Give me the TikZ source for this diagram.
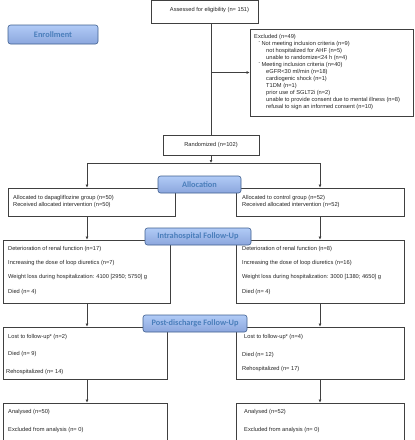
\documentclass[tikz,border=0pt]{standalone}
\usepackage{fontspec}
\setmainfont{Liberation Sans}
\newfontfamily\labfont{Carlito}
\usetikzlibrary{arrows.meta,calc,shadows}
\definecolor{linecol}{HTML}{404040}
\definecolor{labfill}{HTML}{A3C2F5}
\definecolor{labborder}{HTML}{3F5F8F}
\definecolor{labtext}{HTML}{4A7EBB}
\tikzset{
  box/.style={draw=linecol, line width=0.7pt, fill=white, rectangle, inner sep=0pt,
    drop shadow={shadow xshift=0.6pt, shadow yshift=-0.6pt, fill=gray!60, opacity=0.8}},
  lab/.style={draw=labborder, line width=0.6pt, rounded corners=2.5pt,
    top color=labfill!85!white, bottom color=labfill!95!blue!90!black, inner sep=0pt,
    font=\labfont\bfseries\fontsize{8.3}{9}\selectfont, text=labtext},
  txt/.style={anchor=base west, inner sep=0pt, font=\fontsize{5.7}{6.5}\selectfont, text=black!85},
  ctxt/.style={anchor=center, inner sep=0pt, font=\fontsize{5.7}{6.5}\selectfont, text=black!85},
  arr/.style={draw=linecol, line width=0.7pt, -{Latex[length=3pt,width=3pt]}},
  ln/.style={draw=linecol, line width=0.7pt},
}
\newcommand{\boxat}[5]{% name, x1,y1,x2,y2
  \node[box, minimum width={#4-#2}, minimum height={#5-#3}] (#1) at ({(#2+#4)/2},{(#3+#5)/2}) {};}
\newcommand{\labat}[6]{% name, x1,y1,x2,y2, text
  \node[lab, minimum width={#4-#2}, minimum height={#5-#3}] (#1) at ({(#2+#4)/2},{(#3+#5)/2}) {#6};}
\begin{document}
\begin{tikzpicture}[x=1pt,y=-1pt]
\useasboundingbox (0,0) rectangle (415,440);
% boxes
\boxat{assess}{151}{0}{258}{23}
\boxat{excl}{250}{29}{413}{116}
\boxat{rand}{163}{135}{259}{155}
\boxat{allocL}{8}{188}{175}{216}
\boxat{allocR}{236}{188}{404}{216}
\boxat{intraL}{3}{240}{170}{303}
\boxat{intraR}{236}{240}{404}{303}
\boxat{postL}{3}{327}{167}{379}
\boxat{postR}{236}{327}{404}{379}
\boxat{anaL}{3}{403}{167}{440}
\boxat{anaR}{236}{403}{404}{440}
% column coordinates
\coordinate (colL) at (87,0);
\coordinate (colR) at (320,0);
\coordinate (split) at (211,163);
% connectors
\draw[ln] (assess.south -| split) -- (rand.north -| split);
\draw[arr] (excl.west -| split) -- (excl.west);
\draw[arr] (rand.south -| split) -- (split);
\draw[arr] (split) -| (allocL.north -| colL);
\draw[arr] (split) -| (allocR.north -| colR);
\draw[arr] (allocL.south -| colL) -- (intraL.north -| colL);
\draw[arr] (allocR.south -| colR) -- (intraR.north -| colR);
\draw[arr] (intraL.south -| colL) -- (postL.north -| colL);
\draw[arr] (intraR.south -| colR) -- (postR.north -| colR);
\draw[arr] (postL.south -| colL) -- (anaL.north -| colL);
\draw[arr] (postR.south -| colR) -- (anaR.north -| colR);
% labels
\labat{enr}{8}{25}{98}{44}{Enrollment}
\labat{alloc}{158}{176}{241}{193}{Allocation}
\labat{intra}{145}{228}{251}{245}{Intrahospital Follow-Up}
\labat{post}{143}{315}{247}{332}{Post-discharge Follow-Up}
% texts
\node[ctxt] (tassess) at (209.5,10.5) {Assessed for eligibility (n= 151)};
\node[ctxt] (trand) at (211,145) {Randomized (n=102)};
\node[txt] (te1) at (254,38.5) {Excluded (n=49)};
\node[txt] (te2) at (258.5,45.5) {\raisebox{2pt}{\tiny-}\kern1.2pt Not meeting inclusion criteria (n=9)};
\node[txt] (te3) at (266,52.5) {not hospitalized for AHF (n=5)};
\node[txt] (te4) at (266,59.5) {unable to randomize\textless24 h (n=4)};
\node[txt] (te5) at (258.5,66.5) {\raisebox{2pt}{\tiny-}\kern1.2pt Meeting inclusion criteria (n=40)};
\node[txt] (te6) at (266,73.5) {eGFR\textless30 ml/min (n=18)};
\node[txt] (te7) at (266,80.5) {cardiogenic shock (n=1)};
\node[txt] (te8) at (266,87.5) {T1DM (n=1)};
\node[txt] (te9) at (266,94.5) {prior use of SGLT2i (n=2)};
\node[txt] (te10) at (266,101.5) {unable to provide consent due to mental illness (n=8)};
\node[txt] (te11) at (266,108.5) {refusal to sign an informed consent (n=10)};
\node[txt] (tal1) at (13,199.5) {Allocated to dapagliflozine group (n=50)};
\node[txt] (tal2) at (13,206.5) {Received allocated intervention (n=50)};
\node[txt] (tar1) at (242,199.5) {Allocated to control group (n=52)};
\node[txt] (tar2) at (242,206.5) {Received allocated intervention (n=52)};
\node[txt] (til1) at (8,250.5) {Deterioration of renal function (n=17)};
\node[txt] (til2) at (8,264.5) {Increasing the dose of loop diuretics (n=7)};
\node[txt] (til3) at (8,278.5) {Weight loss during hospitalization: 4100 [2950; 5750] g};
\node[txt] (til4) at (8,293) {Died (n= 4)};
\node[txt] (tir1) at (242,250.5) {Deterioration of renal function (n=8)};
\node[txt] (tir2) at (242,264.5) {Increasing the dose of loop diuretics (n=16)};
\node[txt] (tir3) at (242,278.5) {Weight loss during hospitalization: 3000 [1380; 4650] g};
\node[txt] (tir4) at (242,293) {Died (n= 4)};
\node[txt] (tpl1) at (8,338.5) {Lost to follow-up* (n=2)};
\node[txt] (tpl2) at (8,355.5) {Died (n= 9)};
\node[txt] (tpl3) at (6,373) {Rehospitalized (n= 14)};
\node[txt] (tpr1) at (244,338.5) {Lost to follow-up* (n=4)};
\node[txt] (tpr2) at (242,356) {Died (n= 12)};
\node[txt] (tpr3) at (242,370.5) {Rehospitalized (n= 17)};
\node[txt] (tal3) at (8,413.5) {Analysed (n=50)};
\node[txt] (tal4) at (8,431) {Excluded from analysis (n= 0)};
\node[txt] (tar3) at (244,413.5) {Analysed (n=52)};
\node[txt] (tar4) at (244,431) {Excluded from analysis (n= 0)};
\end{tikzpicture}
\end{document}
